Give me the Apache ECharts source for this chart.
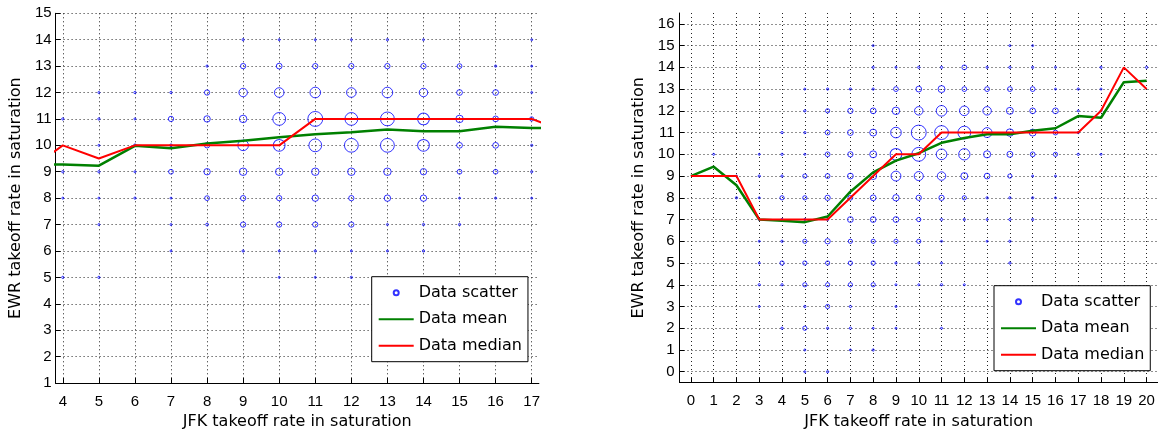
<!DOCTYPE html>
<html>
<head>
<meta charset="utf-8">
<script src="https://cdn.jsdelivr.net/npm/echarts@6/dist/echarts.min.js"></script>
<style>
    html, body { margin: 0; padding: 0; background: #fff; }
    #container_left, #container_right { position: absolute; top: 0; width: 579px; height: 435px; }
    #container_left { left: 0; }
    #container_right { left: 579px; }
</style>
</head>
<body>
<div id="container_left"></div>
<div id="container_right"></div>
<script>
// ---------------- left panel data ----------------
var leftX = [4, 5, 6, 7, 8, 9, 10, 11, 12, 13, 14, 15, 16, 17];
var leftRowY = [14, 13, 12, 11, 10, 9, 8, 7, 6, 5];
// number of observations per (JFK, EWR) cell, one row per leftRowY
var leftCounts = [
    [0, 0, 0, 0, 0, 2, 1, 1, 1, 2, 1, 0, 0, 1],
    [0, 0, 0, 0, 2, 11, 13, 11, 11, 11, 11, 9, 2, 1],
    [0, 1, 2, 2, 11, 28, 36, 44, 36, 44, 28, 13, 13, 1],
    [2, 2, 1, 11, 16, 22, 64, 87, 64, 75, 54, 22, 13, 7],
    [0, 1, 3, 3, 11, 44, 54, 64, 75, 75, 54, 13, 13, 2],
    [2, 2, 1, 9, 16, 22, 22, 22, 22, 22, 16, 9, 9, 2],
    [1, 1, 2, 1, 9, 11, 11, 16, 11, 16, 16, 1, 2, 1],
    [0, 1, 0, 1, 3, 11, 11, 11, 11, 1, 2, 2, 0, 0],
    [0, 0, 0, 1, 0, 2, 1, 2, 1, 1, 2, 0, 0, 0],
    [2, 2, 0, 0, 0, 0, 1, 1, 2, 0, 0, 0, 0, 0]
];
var leftLineX = [3, 4, 5, 6, 7, 8, 9, 10, 11, 12, 13, 14, 15, 16, 17, 18];
var leftMean = [9.3, 9.27, 9.23, 9.98, 9.89, 10.07, 10.17, 10.31, 10.42, 10.5, 10.6, 10.53, 10.53, 10.7, 10.66, 10.64];
var leftMedian = [9, 10, 9.5, 10, 10, 10, 10, 10, 11, 11, 11, 11, 11, 11, 11, 10.5];
var leftXTicks = [4, 5, 6, 7, 8, 9, 10, 11, 12, 13, 14, 15, 16, 17];
var leftYTicks = [1, 2, 3, 4, 5, 6, 7, 8, 9, 10, 11, 12, 13, 14, 15];

// ---------------- right panel data ----------------
var rightX = [0, 1, 2, 3, 4, 5, 6, 7, 8, 9, 10, 11, 12, 13, 14, 15, 16, 17, 18, 19, 20];
var rightRowY = [15, 14, 13, 12, 11, 10, 9, 8, 7, 6, 5, 4, 3, 2, 1, 0];
var rightCounts = [
    [0, 0, 0, 0, 0, 0, 0, 0, 1, 0, 0, 0, 0, 0, 1, 1, 0, 0, 0, 0, 0],
    [0, 0, 0, 0, 0, 0, 0, 0, 2, 1, 2, 2, 9, 2, 2, 2, 1, 0, 2, 0, 2],
    [0, 0, 0, 0, 0, 1, 2, 2, 2, 9, 13, 19, 9, 9, 9, 9, 1, 2, 1, 0, 0],
    [0, 0, 0, 0, 0, 2, 7, 11, 13, 22, 28, 44, 36, 28, 19, 13, 13, 1, 1, 0, 0],
    [0, 0, 0, 0, 2, 2, 9, 13, 19, 44, 87, 75, 64, 38, 22, 19, 9, 2, 0, 0, 0],
    [0, 1, 0, 1, 2, 1, 9, 11, 19, 54, 75, 44, 50, 20, 14, 9, 7, 2, 1, 0, 0],
    [0, 0, 1, 2, 2, 7, 9, 13, 19, 38, 32, 28, 19, 13, 7, 1, 1, 0, 0, 0, 0],
    [0, 0, 2, 1, 7, 7, 11, 9, 13, 16, 11, 11, 7, 2, 2, 2, 1, 0, 0, 0, 0],
    [0, 0, 0, 1, 2, 2, 2, 13, 13, 13, 7, 2, 2, 1, 2, 2, 0, 0, 0, 0, 0],
    [0, 0, 0, 1, 2, 7, 11, 7, 7, 7, 7, 1, 0, 1, 2, 0, 0, 0, 0, 0, 0],
    [0, 0, 0, 1, 7, 7, 7, 7, 7, 2, 1, 1, 0, 0, 2, 0, 0, 0, 0, 0, 0],
    [0, 0, 0, 2, 2, 7, 7, 7, 7, 1, 1, 2, 1, 0, 0, 0, 0, 0, 0, 0, 0],
    [0, 0, 0, 1, 0, 2, 7, 2, 0, 1, 0, 0, 0, 0, 0, 0, 0, 0, 0, 0, 0],
    [0, 0, 0, 0, 2, 7, 2, 2, 1, 1, 0, 1, 0, 0, 0, 0, 0, 0, 0, 0, 0],
    [0, 0, 0, 0, 0, 1, 0, 1, 2, 0, 0, 0, 0, 0, 0, 0, 0, 0, 0, 0, 0],
    [0, 0, 0, 0, 0, 1, 2, 0, 0, 0, 0, 0, 0, 0, 0, 0, 0, 0, 0, 0, 0]
];
var rightLineX = rightX;
var rightMean = [9, 9.43, 8.58, 7.0, 6.95, 6.88, 7.14, 8.28, 9.17, 9.71, 10.05, 10.53, 10.75, 10.92, 10.92, 11.08, 11.2, 11.76, 11.68, 13.32, 13.38];
var rightMedian = [9, 9, 9, 7, 7, 7, 7, 8, 9, 10, 10, 11, 11, 11, 11, 11, 11, 11, 12, 14, 13];
var rightXTicks = rightX;
var rightYTicks = [0, 1, 2, 3, 4, 5, 6, 7, 8, 9, 10, 11, 12, 13, 14, 15, 16];

var axisTitleX = 'JFK takeoff rate in saturation';
var axisTitleY = 'EWR takeoff rate in saturation';
var seriesNames = ['Data scatter', 'Data mean', 'Data median'];

// turn the count table into [x, y, count] points
function buildScatter(xs, rowsY, counts) {
    var pts = [];
    for (var r = 0; r < rowsY.length; r++) {
        for (var c = 0; c < xs.length; c++) {
            if (counts[r][c] > 0) pts.push([xs[c], rowsY[r], counts[r][c]]);
        }
    }
    return pts;
}

function zipLine(xs, ys) {
    var out = [];
    for (var i = 0; i < xs.length; i++) out.push([xs[i], ys[i]]);
    return out;
}

var tickFont = { fontFamily: 'Liberation Sans', fontSize: 15, color: '#000' };
var titleFont = { fontFamily: 'DejaVu Sans', fontSize: 16, color: '#000' };
var gridLine = { show: true, lineStyle: { type: [1, 3], color: '#222', width: 1 } };

function makeOption(cfg) {
    return {
        animation: false,
        grid: cfg.grid,
        legend: {
            // line entries: hide the marker ECharts puts in the middle of the line icon
            data: [
                { name: seriesNames[0] },
                { name: seriesNames[1], itemStyle: { opacity: 0 } },
                { name: seriesNames[2], itemStyle: { opacity: 0 } }
            ],
            orient: 'vertical',
            left: cfg.legendPos[0],
            top: cfg.legendPos[1],
            itemWidth: 35,
            itemHeight: 5,
            itemGap: 8.5,
            padding: [7, 6, 7, 6],
            backgroundColor: '#fff',
            borderColor: '#000',
            borderWidth: 1,
            borderRadius: 0,
            selectedMode: false,
            textStyle: { fontFamily: 'DejaVu Sans', fontSize: 16, color: '#000', lineHeight: 18 }
        },
        xAxis: {
            type: 'value',
            min: cfg.xRange[0],
            max: cfg.xRange[1],
            name: axisTitleX,
            nameLocation: 'middle',
            nameGap: 31,
            nameTextStyle: titleFont,
            axisLine: { show: true, onZero: false, lineStyle: { color: '#000', width: 1 } },
            axisTick: { show: true, inside: true, length: 5, customValues: cfg.xTicks, lineStyle: { color: '#000' } },
            axisLabel: Object.assign({ margin: 11, customValues: cfg.xTicks }, tickFont),
            splitLine: gridLine
        },
        yAxis: {
            type: 'value',
            min: cfg.yRange[0],
            max: cfg.yRange[1],
            name: axisTitleY,
            nameLocation: 'middle',
            nameGap: cfg.yNameGap,
            nameTextStyle: titleFont,
            axisLine: { show: true, onZero: false, lineStyle: { color: '#000', width: 1 } },
            axisTick: { show: true, inside: true, length: 5, customValues: cfg.yTicks, lineStyle: { color: '#000' } },
            axisLabel: Object.assign({ margin: cfg.yLabelMargin, customValues: cfg.yTicks }, tickFont),
            splitLine: gridLine
        },
        series: [
            {
                name: seriesNames[0],
                type: 'scatter',
                symbol: 'circle',
                data: cfg.scatter,
                symbolSize: function (d) {
                    return Math.max(2, 1.6 * Math.sqrt(d[2]));
                },
                itemStyle: { color: 'rgba(0,0,255,0)', borderColor: '#0000ff', borderWidth: 1 }
            },
            {
                name: seriesNames[1],
                type: 'line',
                data: cfg.mean,
                symbol: 'none',
                showSymbol: false,
                clip: true,
                color: '#008000',
                lineStyle: { color: '#008000', width: 2.5 }
            },
            {
                name: seriesNames[2],
                type: 'line',
                data: cfg.median,
                symbol: 'none',
                showSymbol: false,
                clip: true,
                color: '#ff0000',
                lineStyle: { color: '#ff0000', width: 2 }
            }
        ]
    };
}

var leftChart = echarts.init(document.getElementById('container_left'));
leftChart.setOption(makeOption({
    grid: { left: 54.5, top: 13.3, width: 484.4, height: 369.7 },
    legendPos: [371.7, 276.7],
    xRange: [3.8, 17.2],
    yRange: [1, 15],
    xTicks: leftXTicks,
    yTicks: leftYTicks,
    yNameGap: 30,
    yLabelMargin: 4,
    scatter: buildScatter(leftX, leftRowY, leftCounts),
    mean: zipLine(leftLineX, leftMean),
    median: zipLine(leftLineX, leftMedian)
}));

var rightChart = echarts.init(document.getElementById('container_right'));
rightChart.setOption(makeOption({
    grid: { left: 100.5, top: 13, width: 483, height: 369.6 },
    legendPos: [415, 285.7],
    xRange: [-0.5, 20.5],
    yRange: [-0.5, 16.5],
    xTicks: rightXTicks,
    yTicks: rightYTicks,
    yNameGap: 31,
    yLabelMargin: 5,
    scatter: buildScatter(rightX, rightRowY, rightCounts),
    mean: zipLine(rightLineX, rightMean),
    median: zipLine(rightLineX, rightMedian)
}));
</script>
</body>
</html>
